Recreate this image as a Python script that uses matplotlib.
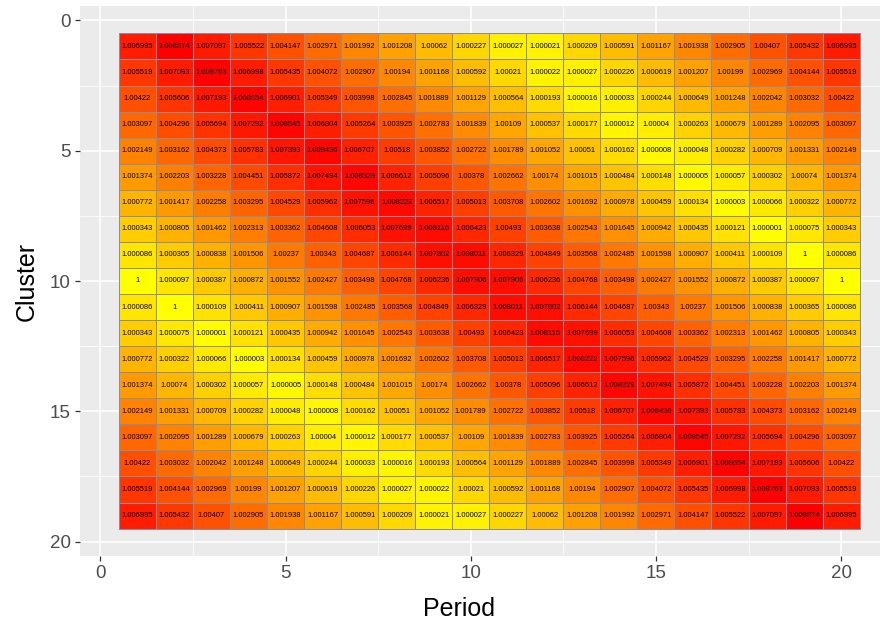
import matplotlib
matplotlib.use('Agg')
import matplotlib.pyplot as plt
import numpy as np
from matplotlib.colors import LinearSegmentedColormap, PowerNorm
from matplotlib.ticker import MultipleLocator

plt.rcParams['font.family'] = ['Liberation Sans', 'DejaVu Sans']

# periods (columns) and clusters (rows)
periods = list(range(1, 21))
clusters = list(range(1, 20))

r01 = [1.006995, 1.008874, 1.007097, 1.005522, 1.004147, 1.002971, 1.001992, 1.001208, 1.00062, 1.000227,
       1.000027, 1.000021, 1.000209, 1.000591, 1.001167, 1.001938, 1.002905, 1.00407, 1.005432, 1.006995]
r02 = [1.005519, 1.007093, 1.008763, 1.006998, 1.005435, 1.004072, 1.002907, 1.00194, 1.001168, 1.000592,
       1.00021, 1.000022, 1.000027, 1.000226, 1.000619, 1.001207, 1.00199, 1.002969, 1.004144, 1.005519]
r03 = [1.00422, 1.005606, 1.007193, 1.008654, 1.006901, 1.005349, 1.003998, 1.002845, 1.001889, 1.001129,
       1.000564, 1.000193, 1.000016, 1.000033, 1.000244, 1.000649, 1.001248, 1.002042, 1.003032, 1.00422]
r04 = [1.003097, 1.004296, 1.005694, 1.007292, 1.008545, 1.006804, 1.005264, 1.003925, 1.002783, 1.001839,
       1.00109, 1.000537, 1.000177, 1.000012, 1.00004, 1.000263, 1.000679, 1.001289, 1.002095, 1.003097]
r05 = [1.002149, 1.003162, 1.004373, 1.005783, 1.007393, 1.008436, 1.006707, 1.00518, 1.003852, 1.002722,
       1.001789, 1.001052, 1.00051, 1.000162, 1.000008, 1.000048, 1.000282, 1.000709, 1.001331, 1.002149]
r06 = [1.001374, 1.002203, 1.003228, 1.004451, 1.005872, 1.007494, 1.008329, 1.006612, 1.005096, 1.00378,
       1.002662, 1.00174, 1.001015, 1.000484, 1.000148, 1.000005, 1.000057, 1.000302, 1.00074, 1.001374]
r07 = [1.000772, 1.001417, 1.002258, 1.003295, 1.004529, 1.005962, 1.007596, 1.008222, 1.006517, 1.005013,
       1.003708, 1.002602, 1.001692, 1.000978, 1.000459, 1.000134, 1.000003, 1.000066, 1.000322, 1.000772]
r08 = [1.000343, 1.000805, 1.001462, 1.002313, 1.003362, 1.004608, 1.006053, 1.007699, 1.008116, 1.006423,
       1.00493, 1.003638, 1.002543, 1.001645, 1.000942, 1.000435, 1.000121, 1.000001, 1.000075, 1.000343]
r09 = [1.000086, 1.000365, 1.000838, 1.001506, 1.00237, 1.00343, 1.004687, 1.006144, 1.007802, 1.008011,
       1.006329, 1.004849, 1.003568, 1.002485, 1.001598, 1.000907, 1.000411, 1.000109, 1, 1.000086]
r10 = [1, 1.000097, 1.000387, 1.000872, 1.001552, 1.002427, 1.003498, 1.004768, 1.006236, 1.007906,
       1.007906, 1.006236, 1.004768, 1.003498, 1.002427, 1.001552, 1.000872, 1.000387, 1.000097, 1]
r11 = [1.000086, 1, 1.000109, 1.000411, 1.000907, 1.001598, 1.002485, 1.003568, 1.004849, 1.006329,
       1.008011, 1.007802, 1.006144, 1.004687, 1.00343, 1.00237, 1.001506, 1.000838, 1.000365, 1.000086]
r12 = [1.000343, 1.000075, 1.000001, 1.000121, 1.000435, 1.000942, 1.001645, 1.002543, 1.003638, 1.00493,
       1.006423, 1.008116, 1.007699, 1.006053, 1.004608, 1.003362, 1.002313, 1.001462, 1.000805, 1.000343]
r13 = [1.000772, 1.000322, 1.000066, 1.000003, 1.000134, 1.000459, 1.000978, 1.001692, 1.002602, 1.003708,
       1.005013, 1.006517, 1.008222, 1.007596, 1.005962, 1.004529, 1.003295, 1.002258, 1.001417, 1.000772]
r14 = [1.001374, 1.00074, 1.000302, 1.000057, 1.000005, 1.000148, 1.000484, 1.001015, 1.00174, 1.002662,
       1.00378, 1.005096, 1.006612, 1.008329, 1.007494, 1.005872, 1.004451, 1.003228, 1.002203, 1.001374]
r15 = [1.002149, 1.001331, 1.000709, 1.000282, 1.000048, 1.000008, 1.000162, 1.00051, 1.001052, 1.001789,
       1.002722, 1.003852, 1.00518, 1.006707, 1.008436, 1.007393, 1.005783, 1.004373, 1.003162, 1.002149]
r16 = [1.003097, 1.002095, 1.001289, 1.000679, 1.000263, 1.00004, 1.000012, 1.000177, 1.000537, 1.00109,
       1.001839, 1.002783, 1.003925, 1.005264, 1.006804, 1.008545, 1.007292, 1.005694, 1.004296, 1.003097]
r17 = [1.00422, 1.003032, 1.002042, 1.001248, 1.000649, 1.000244, 1.000033, 1.000016, 1.000193, 1.000564,
       1.001129, 1.001889, 1.002845, 1.003998, 1.005349, 1.006901, 1.008654, 1.007193, 1.005606, 1.00422]
r18 = [1.005519, 1.004144, 1.002969, 1.00199, 1.001207, 1.000619, 1.000226, 1.000027, 1.000022, 1.00021,
       1.000592, 1.001168, 1.00194, 1.002907, 1.004072, 1.005435, 1.006998, 1.008763, 1.007093, 1.005519]
r19 = [1.006995, 1.005432, 1.00407, 1.002905, 1.001938, 1.001167, 1.000591, 1.000209, 1.000021, 1.000027,
       1.000227, 1.00062, 1.001208, 1.001992, 1.002971, 1.004147, 1.005522, 1.007097, 1.008874, 1.006995]

values = np.array([r01, r02, r03, r04, r05, r06, r07, r08, r09, r10,
                   r11, r12, r13, r14, r15, r16, r17, r18, r19])

fig = plt.figure(figsize=(8.9, 6.19), dpi=100)
ax = fig.add_axes([80 / 890, 1 - 556 / 619, 800 / 890, 550 / 619])
ax.set_facecolor('#EBEBEB')

cmap = LinearSegmentedColormap.from_list('yr', ['#FFFF00', '#FF0000'])
norm = PowerNorm(gamma=0.5, vmin=values.min(), vmax=values.max())

xe = np.arange(len(periods) + 1) + 0.5
ye = np.arange(len(clusters) + 1) + 0.5
ax.pcolormesh(xe, ye, values, cmap=cmap, norm=norm,
              edgecolors='#8C8C9C', linewidth=0.6, zorder=2)

for i, c in enumerate(clusters):
    for j, p in enumerate(periods):
        ax.text(p, c, f'{values[i, j]:.6f}'.rstrip('0').rstrip('.'),
                ha='center', va='center', fontsize=5.4, color='black', zorder=3)

ax.set_xlim(-0.55, 21.05)
ax.set_ylim(20.55, -0.55)
ax.xaxis.set_major_locator(MultipleLocator(5))
ax.yaxis.set_major_locator(MultipleLocator(5))
ax.xaxis.set_minor_locator(MultipleLocator(2.5))
ax.yaxis.set_minor_locator(MultipleLocator(2.5))
ax.grid(which='major', color='white', linewidth=1.1)
ax.grid(which='minor', color='white', linewidth=0.55)
ax.set_axisbelow(True)
for s in ax.spines.values():
    s.set_visible(False)
ax.tick_params(which='major', length=3.5, width=0.9, color='#333333',
               labelsize=13.5, labelcolor='#4D4D4D', pad=3)
ax.tick_params(which='minor', length=0)

ax.set_xlabel('Period', fontsize=18, labelpad=4)
ax.xaxis.set_label_coords((459 - 80) / 800, -0.074)
ax.set_ylabel('Cluster', fontsize=18, labelpad=8)

plt.savefig('out.png', dpi=100)
